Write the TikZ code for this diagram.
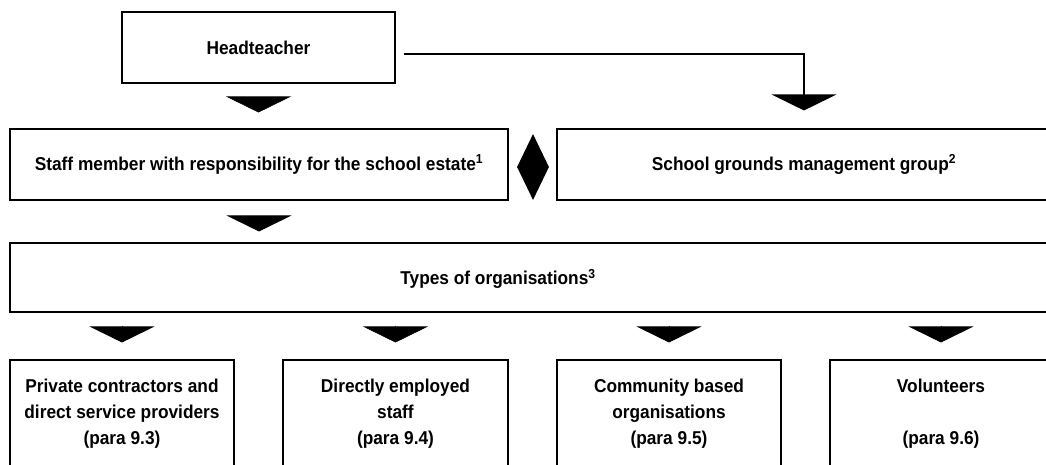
\documentclass[tikz,border=0pt]{standalone}
\usepackage{fontspec}
\setmainfont{Liberation Sans}[FakeStretch=0.93]
\usetikzlibrary{arrows.meta,shapes.geometric,calc}
\newcommand\diagfont{\fontsize{18.6}{26}\selectfont\bfseries}
\begin{document}
\begin{tikzpicture}[x=1pt,y=-1pt,
  box/.style={draw=black,line width=1.1pt,rectangle,inner sep=0pt,align=center,font=\diagfont},
  lbl/.style={inner sep=0pt,align=center,font=\diagfont},
  tri/.style={-{Triangle[width=65pt,length=16pt]},line width=0.6pt},
  diam/.style={diamond,fill=black,inner sep=0pt,minimum width=32pt,minimum height=66pt}
]
\useasboundingbox (0,0) rectangle (1046,464);
\clip (0,0) rectangle (1046,464);
% boxes
\node[box,minimum width=273pt,minimum height=71pt] (head) at (258.5,47.5) {Headteacher};
\node[box,minimum width=498pt,minimum height=71pt] (staff) at (259,164.5) {Staff member with responsibility for the school estate\textsuperscript{1}};
\node[box,minimum width=494pt,minimum height=71pt] (grounds) at (804,164.5) {School grounds management group\textsuperscript{2}};
\node[box,minimum width=1060pt,minimum height=69pt] (types) at (540,277.5) {};
\node[lbl] (typestxt) at (498,279) {Types of organisations\textsuperscript{3}};
\node[box,minimum width=224pt,minimum height=107pt] (b1) at (122,413.5) {Private contractors and\\direct service providers\\(para 9.3)};
\node[box,minimum width=225pt,minimum height=107pt] (b2) at (395.5,413.5) {Directly employed\\staff\\(para 9.4)};
\node[box,minimum width=224pt,minimum height=107pt] (b3) at (669,413.5) {Community based\\organisations\\(para 9.5)};
\node[box,minimum width=222pt,minimum height=107pt] (b4) at (941,413.5) {Volunteers\\\mbox{}\\(para 9.6)};
\node[diam] (link) at (533,167) {};
% connectors
\draw[tri,shorten <=14pt,shorten >=16pt] (head.south) -- (head.south |- staff.north);
\draw[tri,shorten <=16pt,shorten >=11pt] (staff.south) -- (staff.south |- types.north);
\draw[tri,shorten <=13pt,shorten >=17pt] (types.south -| b1.north) -- (b1.north);
\draw[tri,shorten <=13pt,shorten >=17pt] (types.south -| b2.north) -- (b2.north);
\draw[tri,shorten <=13pt,shorten >=17pt] (types.south -| b3.north) -- (b3.north);
\draw[tri,shorten <=13pt,shorten >=17pt] (types.south -| b4.north) -- (b4.north);
\draw[line width=1.1pt,-{Triangle[width=65pt,length=16pt]},shorten >=18pt]
  ([xshift=8pt,yshift=-6.5pt]head.east) -| (grounds.north);
\end{tikzpicture}
\end{document}
